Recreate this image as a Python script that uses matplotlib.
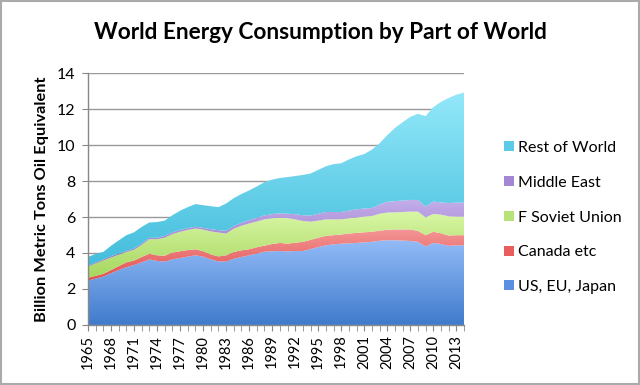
import numpy as np
import matplotlib
matplotlib.use("Agg")
import matplotlib.pyplot as plt
from matplotlib.colors import LinearSegmentedColormap
from matplotlib.patches import Polygon, Patch

years = list(range(1965, 2015))

# cumulative tops (billion metric tons oil equivalent)
top_us = [2.47, 2.58, 2.69, 2.88, 3.05, 3.21, 3.33, 3.48, 3.64, 3.56,
          3.52, 3.65, 3.72, 3.80, 3.87, 3.80, 3.65, 3.53, 3.53, 3.68,
          3.78, 3.87, 3.97, 4.07, 4.10, 4.11, 4.09, 4.11, 4.11, 4.22,
          4.33, 4.43, 4.48, 4.52, 4.54, 4.56, 4.59, 4.62, 4.68, 4.71,
          4.71, 4.69, 4.67, 4.62, 4.37, 4.56, 4.50, 4.40, 4.43, 4.43]
top_canada = [2.62, 2.73, 2.84, 3.05, 3.27, 3.48, 3.58, 3.78, 3.96, 3.87,
              3.85, 4.02, 4.10, 4.16, 4.21, 4.10, 3.92, 3.81, 3.87, 4.06,
              4.15, 4.21, 4.32, 4.41, 4.50, 4.56, 4.52, 4.57, 4.62, 4.73,
              4.85, 4.95, 4.99, 5.03, 5.08, 5.12, 5.15, 5.18, 5.24, 5.29,
              5.31, 5.31, 5.31, 5.23, 4.99, 5.18, 5.10, 4.97, 4.99, 4.99]
top_fsu = [3.25, 3.42, 3.59, 3.75, 3.90, 4.06, 4.18, 4.45, 4.77, 4.77,
           4.85, 5.05, 5.18, 5.28, 5.36, 5.30, 5.20, 5.14, 5.08, 5.35,
           5.52, 5.64, 5.75, 5.87, 5.93, 5.96, 5.94, 5.87, 5.78, 5.74,
           5.80, 5.87, 5.87, 5.87, 5.93, 5.98, 6.02, 6.06, 6.18, 6.25,
           6.26, 6.28, 6.30, 6.30, 5.98, 6.17, 6.13, 6.04, 6.02, 6.02]
top_me = [3.29, 3.47, 3.65, 3.82, 3.97, 4.11, 4.25, 4.52, 4.84, 4.85,
          4.95, 5.15, 5.28, 5.38, 5.46, 5.40, 5.32, 5.27, 5.23, 5.50,
          5.68, 5.83, 5.96, 6.09, 6.16, 6.21, 6.18, 6.16, 6.10, 6.08,
          6.18, 6.28, 6.28, 6.28, 6.36, 6.43, 6.47, 6.50, 6.70, 6.85,
          6.88, 6.92, 6.95, 6.95, 6.58, 6.86, 6.81, 6.78, 6.80, 6.80]
top_total = [3.78, 3.95, 4.06, 4.40, 4.70, 4.99, 5.15, 5.45, 5.70, 5.72,
             5.80, 6.10, 6.35, 6.55, 6.72, 6.66, 6.60, 6.55, 6.75, 7.05,
             7.28, 7.48, 7.70, 7.94, 8.08, 8.17, 8.22, 8.28, 8.34, 8.42,
             8.62, 8.82, 8.94, 8.99, 9.20, 9.38, 9.50, 9.75, 10.10, 10.55,
             10.95, 11.27, 11.57, 11.74, 11.61, 12.11, 12.40, 12.62, 12.80, 12.92]

# per-series values
us_eu_japan = np.array(top_us)
canada_etc = np.array(top_canada) - np.array(top_us)
f_soviet = np.array(top_fsu) - np.array(top_canada)
middle_east = np.array(top_me) - np.array(top_fsu)
rest_of_world = np.array(top_total) - np.array(top_me)

series_names = ["US, EU, Japan", "Canada etc", "F Soviet Union", "Middle East", "Rest of World"]
series_vals = [us_eu_japan, canada_etc, f_soviet, middle_east, rest_of_world]
# (bottom colour, top colour) for a vertical gradient
grad_colors = [("#3f7bcc", "#93bbf7"),
               ("#e04f4f", "#f49696"),
               ("#a6d65f", "#d9f7a4"),
               ("#9272c4", "#c4aeea"),
               ("#43bddc", "#93e8f9")]
legend_colors = ["#5b8fe0", "#e85e5e", "#b8e27a", "#a387d4", "#5ccbe6"]

fig = plt.figure(figsize=(6.4, 3.85), dpi=100)
plt.rcParams['font.family'] = ['Lato', 'DejaVu Sans']
ax = fig.add_axes([0.1375, 0.156, 0.5875, 0.654])

x = np.array(years, dtype=float)
lower = np.zeros(len(years))
for vals, (c0, c1) in zip(series_vals, grad_colors):
    upper = lower + vals
    verts = np.vstack([np.column_stack([x, upper]), np.column_stack([x[::-1], lower[::-1]])])
    poly = Polygon(verts, closed=True, facecolor='none', edgecolor='none', transform=ax.transData)
    ax.add_patch(poly)
    ymin, ymax = lower.min(), upper.max()
    cmap = LinearSegmentedColormap.from_list("g", [c0, c1])
    grad = np.linspace(0, 1, 256).reshape(-1, 1)
    im = ax.imshow(grad, extent=[x[0], x[-1], ymin, ymax], origin='lower',
                   aspect='auto', cmap=cmap, interpolation='bilinear', zorder=2)
    im.set_clip_path(poly)
    lower = upper

ax.set_xlim(1965, 2014)
ax.set_ylim(0, 14)
ax.set_yticks(range(0, 15, 2))
ax.set_xticks(years, minor=True)
ax.set_xticks(list(range(1965, 2014, 3)))
ax.set_xticklabels([str(y) for y in range(1965, 2014, 3)], rotation=90, fontsize=10.5)
ax.tick_params(axis='y', labelsize=11.5, length=4, color='#888888', pad=5)
ax.tick_params(axis='x', which='both', length=4, color='#888888', pad=3)
ax.grid(axis='y', color='#999999', linewidth=1.0, zorder=1)
ax.set_axisbelow(True)
for s in ['top', 'right']:
    ax.spines[s].set_visible(False)
for s in ['left', 'bottom']:
    ax.spines[s].set_color('#888888')
    ax.spines[s].set_linewidth(1.0)
    ax.spines[s].set_zorder(3)

ax.set_ylabel("Billion Metric Tons Oil Equivalent", fontsize=11.8, fontweight='bold', labelpad=6)
fig.text(0.5, 0.915, "World Energy Consumption by Part of World", ha='center', va='center',
         fontsize=16.3, fontweight='bold')

handles = [Patch(facecolor=c, edgecolor='none') for c in legend_colors]
leg = fig.legend(handles[::-1], series_names[::-1], loc='center left',
                 bbox_to_anchor=(0.765, 0.435), frameon=False, fontsize=11.5,
                 handlelength=0.6, handleheight=0.6, handletextpad=0.3,
                 labelspacing=1.3)

fig.patches.append(plt.Rectangle((0.002, 0.003), 0.996, 0.994, transform=fig.transFigure,
                                 fill=False, edgecolor='#aaaaaa', linewidth=1.5))
fig.savefig("out.png", dpi=100)
